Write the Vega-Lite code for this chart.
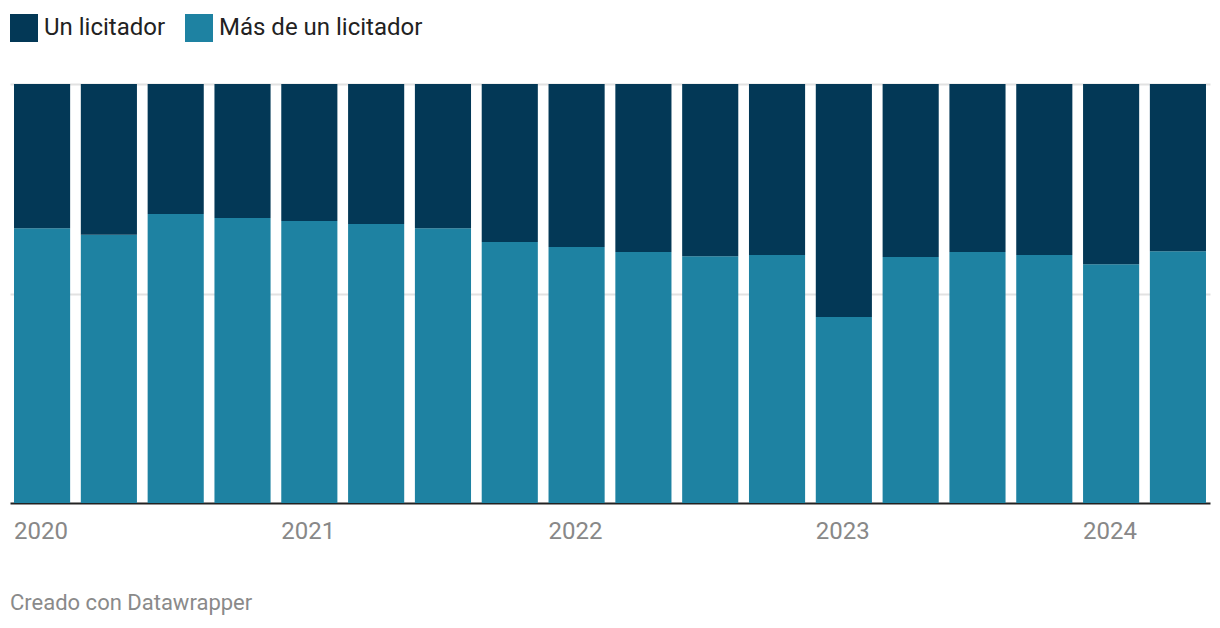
{
  "$schema": "https://vega.github.io/schema/vega-lite/v6.json",
  "autosize": "none",
  "width": 1200,
  "height": 419,
  "padding": {"left": 10, "top": 84, "right": 10, "bottom": 125},
  "background": "white",
  "config": {"font": "Roboto", "view": {"stroke": null}},
  "title": {"text": "Creado con Datawrapper", "orient": "bottom", "anchor": "start", "fontSize": 22, "fontWeight": "normal", "color": "#8a8a8a", "offset": 50, "font": "Roboto"},
  "data": {"values": [
    {"q": "2020-Q1", "serie": "Más de un licitador", "orden": 1, "valor": 65.6},
    {"q": "2020-Q2", "serie": "Más de un licitador", "orden": 1, "valor": 64.0},
    {"q": "2020-Q3", "serie": "Más de un licitador", "orden": 1, "valor": 69.0},
    {"q": "2020-Q4", "serie": "Más de un licitador", "orden": 1, "valor": 68.0},
    {"q": "2021-Q1", "serie": "Más de un licitador", "orden": 1, "valor": 67.3},
    {"q": "2021-Q2", "serie": "Más de un licitador", "orden": 1, "valor": 66.6},
    {"q": "2021-Q3", "serie": "Más de un licitador", "orden": 1, "valor": 65.6},
    {"q": "2021-Q4", "serie": "Más de un licitador", "orden": 1, "valor": 62.3},
    {"q": "2022-Q1", "serie": "Más de un licitador", "orden": 1, "valor": 61.1},
    {"q": "2022-Q2", "serie": "Más de un licitador", "orden": 1, "valor": 59.9},
    {"q": "2022-Q3", "serie": "Más de un licitador", "orden": 1, "valor": 58.9},
    {"q": "2022-Q4", "serie": "Más de un licitador", "orden": 1, "valor": 59.2},
    {"q": "2023-Q1", "serie": "Más de un licitador", "orden": 1, "valor": 44.4},
    {"q": "2023-Q2", "serie": "Más de un licitador", "orden": 1, "valor": 58.7},
    {"q": "2023-Q3", "serie": "Más de un licitador", "orden": 1, "valor": 59.9},
    {"q": "2023-Q4", "serie": "Más de un licitador", "orden": 1, "valor": 59.2},
    {"q": "2024-Q1", "serie": "Más de un licitador", "orden": 1, "valor": 57.0},
    {"q": "2024-Q2", "serie": "Más de un licitador", "orden": 1, "valor": 60.1},
    {"q": "2020-Q1", "serie": "Un licitador", "orden": 2, "valor": 34.4},
    {"q": "2020-Q2", "serie": "Un licitador", "orden": 2, "valor": 36.0},
    {"q": "2020-Q3", "serie": "Un licitador", "orden": 2, "valor": 31.0},
    {"q": "2020-Q4", "serie": "Un licitador", "orden": 2, "valor": 32.0},
    {"q": "2021-Q1", "serie": "Un licitador", "orden": 2, "valor": 32.7},
    {"q": "2021-Q2", "serie": "Un licitador", "orden": 2, "valor": 33.4},
    {"q": "2021-Q3", "serie": "Un licitador", "orden": 2, "valor": 34.4},
    {"q": "2021-Q4", "serie": "Un licitador", "orden": 2, "valor": 37.7},
    {"q": "2022-Q1", "serie": "Un licitador", "orden": 2, "valor": 38.9},
    {"q": "2022-Q2", "serie": "Un licitador", "orden": 2, "valor": 40.1},
    {"q": "2022-Q3", "serie": "Un licitador", "orden": 2, "valor": 41.1},
    {"q": "2022-Q4", "serie": "Un licitador", "orden": 2, "valor": 40.8},
    {"q": "2023-Q1", "serie": "Un licitador", "orden": 2, "valor": 55.6},
    {"q": "2023-Q2", "serie": "Un licitador", "orden": 2, "valor": 41.3},
    {"q": "2023-Q3", "serie": "Un licitador", "orden": 2, "valor": 40.1},
    {"q": "2023-Q4", "serie": "Un licitador", "orden": 2, "valor": 40.8},
    {"q": "2024-Q1", "serie": "Un licitador", "orden": 2, "valor": 43.0},
    {"q": "2024-Q2", "serie": "Un licitador", "orden": 2, "valor": 39.9}
  ]},
  "mark": {"type": "bar"},
  "encoding": {
    "x": {"field": "q", "type": "ordinal", "sort": null,
      "scale": {"paddingInner": 0.16, "paddingOuter": 0.06},
      "axis": {"title": null, "labelAngle": 0, "ticks": false, "domainColor": "#222222", "domainWidth": 2,
        "labelExpr": "indexof(datum.value, 'Q1') > 0 ? substring(datum.value, 0, 4) : ''",
        "labelAlign": "left", "labelOffset": -28, "labelPadding": 16, "labelFontSize": 24, "labelColor": "#888888", "labelFont": "Roboto", "labelOverlap": false}},
    "y": {"field": "valor", "type": "quantitative", "stack": "zero",
      "scale": {"domain": [0, 100], "nice": false},
      "axis": {"title": null, "labels": false, "ticks": false, "domain": false, "values": [50, 100], "gridColor": "#e2e2e2", "gridWidth": 2}},
    "color": {"field": "serie", "type": "nominal",
      "scale": {"domain": ["Un licitador", "Más de un licitador"], "range": ["#033856", "#1e82a2"]},
      "legend": {"title": null, "orient": "none", "legendX": 0, "legendY": -70, "direction": "horizontal",
        "symbolType": "square", "symbolSize": 784, "symbolStrokeWidth": 0, "symbolOpacity": 1,
        "labelFontSize": 24, "labelColor": "#222222", "labelFont": "Roboto", "labelOffset": 6, "columnPadding": 19, "labelLimit": 400}},
    "order": {"field": "orden", "type": "quantitative"}
  }
}
